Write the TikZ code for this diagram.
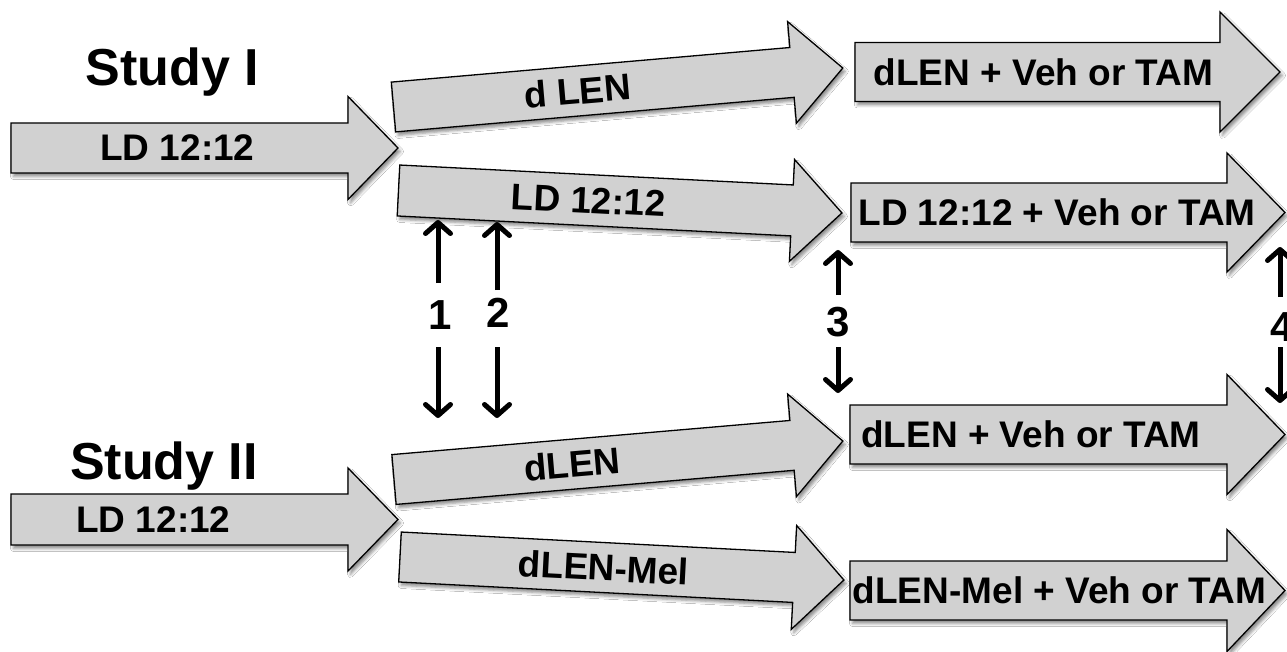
\documentclass[tikz,border=0pt]{standalone}
\usepackage{fontspec}
\setmainfont{Liberation Sans}
\usetikzlibrary{arrows.meta,shadows.blur}

\definecolor{boxgray}{RGB}{209,209,209}

\tikzset{
  blockshape/.style={fill=boxgray, draw=black, line width=1.3pt, line join=miter,
    blur shadow={shadow xshift=2.5pt, shadow yshift=-3.5pt, shadow blur radius=3pt,
      shadow opacity=45}},
  blocktext/.style={font=\fontsize{37}{40}\selectfont\bfseries, inner sep=0pt, text=black},
  studytext/.style={font=\fontsize{52}{56}\selectfont\bfseries, inner sep=0pt, anchor=base},
  numlabel/.style={font=\fontsize{42}{46}\selectfont\bfseries, inner sep=0pt},
  vec/.style={line width=5pt,
    -{Straight Barb[length=11pt,width=25pt,line width=5pt,line cap=round,line join=round]}},
}

% #1 node name, #2 centre of the tail edge, #3 angle, #4 total length,
% #5 shaft width, #6 head width, #7 head length, #8 text offset, #9 text
\newcommand{\blockarrow}[9]{%
  \begin{scope}[shift={#2}, rotate=#3]
    \path[blockshape] (0,-#5/2) -- ({#4-#7},-#5/2) -- ({#4-#7},-#6/2) -- (#4,0)
      -- ({#4-#7},#6/2) -- ({#4-#7},#5/2) -- (0,#5/2) -- cycle;
    \node[blocktext, rotate=#3] (#1) at (#8,0) {#9};
  \end{scope}}

\begin{document}
\begin{tikzpicture}[x=1pt, y=-1pt]
  \useasboundingbox (0,0) rectangle (1287,652);
  \fill[white] (0,0) rectangle (1287,652);

  % study headings
  \node[studytext] (study1) at (172.5,86) {Study I};
  \node[studytext] (study2) at (164,479) {Study II};

  % baseline photoperiod
  \blockarrow{ldI}{(11,148)}{0}{387}{50}{103}{50}{166.5}{LD 12:12}
  \blockarrow{ldII}{(11,519.5)}{0}{387}{51}{103}{50}{142.5}{LD 12:12}

  % split into the two lighting schedules
  \blockarrow{dlenI}{(393.5,107)}{4.96}{451}{50}{102}{51}{185}{d LEN}
  \blockarrow{ldmid}{(398.5,190.5)}{-2.9}{444}{51}{102}{50}{190}{LD 12:12}
  \blockarrow{dlenII}{(394,479.5)}{4.9}{450.5}{50}{103}{51}{179}{dLEN}
  \blockarrow{dlenmel}{(400,557)}{-2.97}{444.5}{50}{104}{50}{204}{dLEN-Mel}

  % treatment phase
  \blockarrow{trtA}{(855,72)}{0}{425}{59}{120}{60}{188.5}{dLEN + Veh or TAM}
  \blockarrow{trtB}{(851,212.5)}{0}{434}{59}{119}{58}{206}{LD 12:12 + Veh or TAM}
  \blockarrow{trtC}{(850,434.5)}{0}{435}{59}{120}{58}{181}{dLEN + Veh or TAM}
  \blockarrow{trtD}{(850,590.5)}{0}{435}{59}{122}{58}{209.5}{dLEN-Mel + Veh or TAM}

  % comparison markers
  \node[numlabel] (n1) at (440,315) {1};
  \node[numlabel] (n2) at (498,313) {2};
  \node[numlabel] (n3) at (838.5,322) {3};
  \node[numlabel] (n4) at (1282,327) {4};

  \coordinate (a1t) at (438,283); \coordinate (a1h) at (438,220);
  \coordinate (b1t) at (438,347); \coordinate (b1h) at (438,418);
  \coordinate (a2t) at (497,290); \coordinate (a2h) at (497,222);
  \coordinate (b2t) at (497,347); \coordinate (b2h) at (497,418);
  \coordinate (a3t) at (838,295); \coordinate (a3h) at (838,250);
  \coordinate (b3t) at (838,347); \coordinate (b3h) at (838,393);
  \coordinate (a4t) at (1280,297); \coordinate (a4h) at (1280,247);
  \coordinate (b4t) at (1280,347); \coordinate (b4h) at (1280,403);

  \foreach \k in {1,2,3,4} {
    \draw[vec] (a\k t) -- (a\k h);
    \draw[vec] (b\k t) -- (b\k h);
  }
\end{tikzpicture}
\end{document}
